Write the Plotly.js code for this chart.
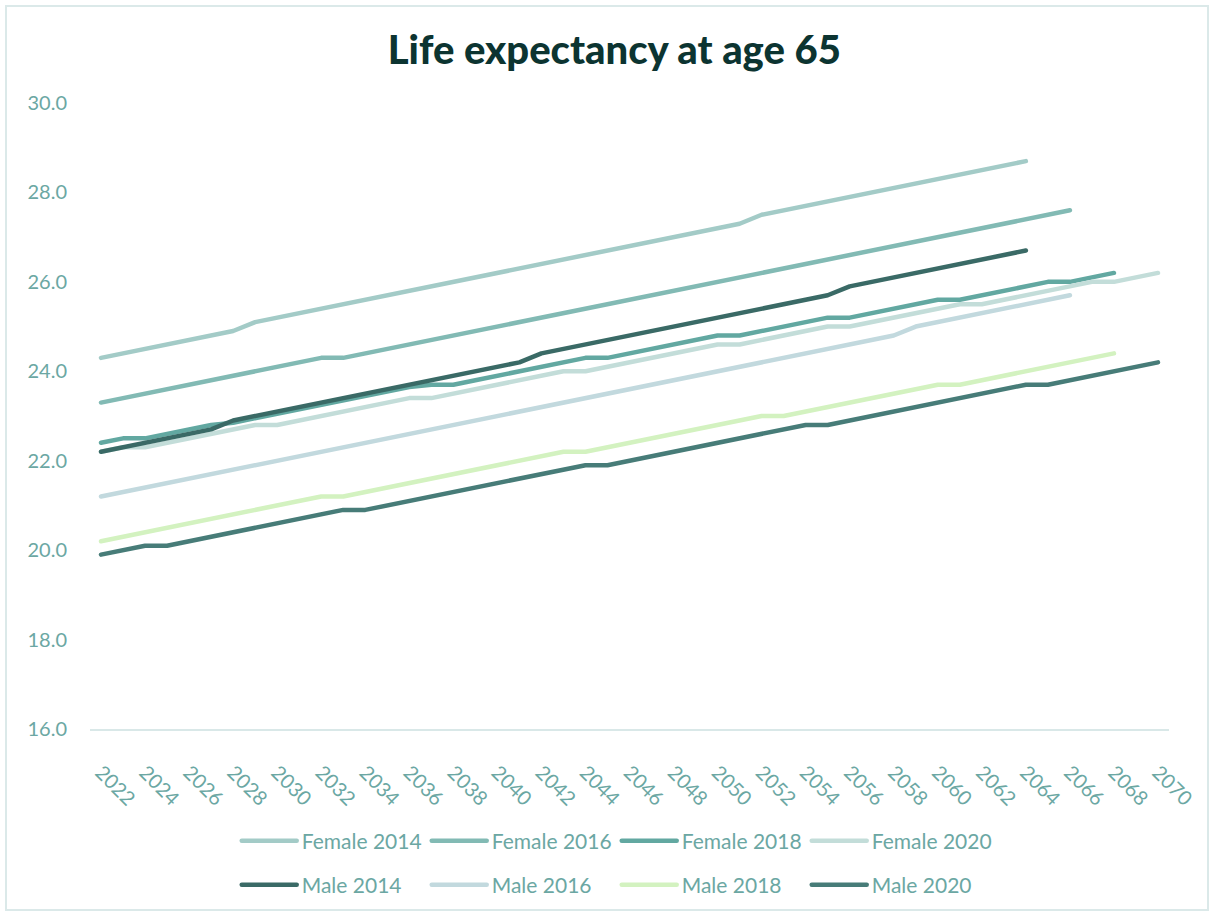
<!DOCTYPE html>
<html><head><meta charset="utf-8">
<script src="https://cdn.plot.ly/plotly-3.0.1.min.js"></script>
<style>
html,body{margin:0;padding:0;background:#fff;}
#chart{width:1214px;height:916px;position:absolute;left:0;top:0;}
#frame{position:absolute;left:5px;top:5px;width:1204px;height:906px;border:2px solid #dbe9e9;box-sizing:border-box;pointer-events:none;}
path.js-line{stroke-linecap:round;stroke-linejoin:round;}
</style></head><body>
<div id="chart"></div><div id="frame"></div>
<script>
const years = [2022,2023,2024,2025,2026,2027,2028,2029,2030,2031,2032,2033,2034,2035,2036,2037,2038,2039,2040,2041,2042,2043,2044,2045,2046,2047,2048,2049,2050,2051,2052,2053,2054,2055,2056,2057,2058,2059,2060,2061,2062,2063,2064,2065,2066,2067,2068,2069,2070];

const female2014 = [24.3,24.4,24.5,24.6,24.7,24.8,24.9,25.1,25.2,25.3,25.4,25.5,25.6,25.7,25.8,25.9,26.0,26.1,26.2,26.3,26.4,26.5,26.6,26.7,26.8,26.9,27.0,27.1,27.2,27.3,27.5,27.6,27.7,27.8,27.9,28.0,28.1,28.2,28.3,28.4,28.5,28.6,28.7];
const female2016 = [23.3,23.4,23.5,23.6,23.7,23.8,23.9,24.0,24.1,24.2,24.3,24.3,24.4,24.5,24.6,24.7,24.8,24.9,25.0,25.1,25.2,25.3,25.4,25.5,25.6,25.7,25.8,25.9,26.0,26.1,26.2,26.3,26.4,26.5,26.6,26.7,26.8,26.9,27.0,27.1,27.2,27.3,27.4,27.5,27.6];
const female2018 = [22.4,22.5,22.5,22.6,22.7,22.8,22.85,22.95,23.05,23.15,23.25,23.35,23.45,23.55,23.65,23.7,23.7,23.8,23.9,24.0,24.1,24.2,24.3,24.3,24.4,24.5,24.6,24.7,24.8,24.8,24.9,25.0,25.1,25.2,25.2,25.3,25.4,25.5,25.6,25.6,25.7,25.8,25.9,26.0,26.0,26.1,26.2];
const female2020 = [22.2,22.3,22.3,22.4,22.5,22.6,22.7,22.8,22.8,22.9,23.0,23.1,23.2,23.3,23.4,23.4,23.5,23.6,23.7,23.8,23.9,24.0,24.0,24.1,24.2,24.3,24.4,24.5,24.6,24.6,24.7,24.8,24.9,25.0,25.0,25.1,25.2,25.3,25.4,25.5,25.5,25.6,25.7,25.8,25.9,26.0,26.0,26.1,26.2];
const male2014 = [22.2,22.3,22.4,22.5,22.6,22.7,22.9,23.0,23.1,23.2,23.3,23.4,23.5,23.6,23.7,23.8,23.9,24.0,24.1,24.2,24.4,24.5,24.6,24.7,24.8,24.9,25.0,25.1,25.2,25.3,25.4,25.5,25.6,25.7,25.9,26.0,26.1,26.2,26.3,26.4,26.5,26.6,26.7];
const male2016 = [21.2,21.3,21.4,21.5,21.6,21.7,21.8,21.9,22.0,22.1,22.2,22.3,22.4,22.5,22.6,22.7,22.8,22.9,23.0,23.1,23.2,23.3,23.4,23.5,23.6,23.7,23.8,23.9,24.0,24.1,24.2,24.3,24.4,24.5,24.6,24.7,24.8,25.0,25.1,25.2,25.3,25.4,25.5,25.6,25.7];
const male2018 = [20.2,20.3,20.4,20.5,20.6,20.7,20.8,20.9,21.0,21.1,21.2,21.2,21.3,21.4,21.5,21.6,21.7,21.8,21.9,22.0,22.1,22.2,22.2,22.3,22.4,22.5,22.6,22.7,22.8,22.9,23.0,23.0,23.1,23.2,23.3,23.4,23.5,23.6,23.7,23.7,23.8,23.9,24.0,24.1,24.2,24.3,24.4];
const male2020 = [19.9,20.0,20.1,20.1,20.2,20.3,20.4,20.5,20.6,20.7,20.8,20.9,20.9,21.0,21.1,21.2,21.3,21.4,21.5,21.6,21.7,21.8,21.9,21.9,22.0,22.1,22.2,22.3,22.4,22.5,22.6,22.7,22.8,22.8,22.9,23.0,23.1,23.2,23.3,23.4,23.5,23.6,23.7,23.7,23.8,23.9,24.0,24.1,24.2];

const seriesNames = ['Female 2014','Female 2016','Female 2018','Female 2020','Male 2014','Male 2016','Male 2018','Male 2020'];
const seriesValues = [female2014,female2016,female2018,female2020,male2014,male2016,male2018,male2020];
const seriesColors = ['#a3cbc7','#82bab4','#62a8a1','#c3ddd9','#3a6a66','#c2d9de','#d3f2c0','#477c78'];
const seriesLegend = ['legend','legend','legend','legend','legend2','legend2','legend2','legend2'];

const tickColor = '#6ba7a3';
const fontFam = 'Lato, "Open Sans", sans-serif';

const traces = seriesNames.map((n,i)=>({
  type:'scatter', mode:'lines', name:n,
  x: years.slice(0, seriesValues[i].length),
  y: seriesValues[i],
  line:{color:seriesColors[i], width:4.5},
  legend: seriesLegend[i],
  hoverinfo:'x+y+name'
}));

const legendBase = {
  orientation:'h', xref:'container', yref:'container',
  xanchor:'left', yanchor:'middle',
  entrywidth:120, entrywidthmode:'pixels', itemwidth:55,
  font:{family:fontFam, size:21, color:tickColor},
  bgcolor:'rgba(0,0,0,0)', traceorder:'normal'
};

const layout = {
  width:1214, height:916,
  paper_bgcolor:'#ffffff', plot_bgcolor:'#ffffff',
  margin:{l:90, r:45, t:103, b:187},
  title:{text:'Life expectancy at age 65', xref:'container', yref:'container', x:0.506, y:0.945, xanchor:'center', yanchor:'middle',
    font:{family:fontFam, size:40, color:'#0c3431', weight:900}},
  xaxis:{type:'linear', range:[2021.5,2070.5], tick0:2022, dtick:2, tickangle:45, tickformat:'d',
    showgrid:false, zeroline:false, showline:true, linecolor:'#d9e8e8', linewidth:2, ticks:'',
    ticklabelstandoff:22, tickfont:{family:fontFam, size:20, color:tickColor}},
  yaxis:{range:[16,30], dtick:2, tick0:16, tickformat:'.1f', showgrid:false, zeroline:false, showline:false, ticks:'',
    ticklabelstandoff:22, tickfont:{family:fontFam, size:20, color:tickColor}},
  legend: Object.assign({}, legendBase, {x:0.195, y:1-841/916}),
  legend2: Object.assign({}, legendBase, {x:0.195, y:1-885/916}),
  showlegend:true
};

Plotly.newPlot('chart', traces, layout, {displayModeBar:false, staticPlot:true});
</script>
</body></html>
